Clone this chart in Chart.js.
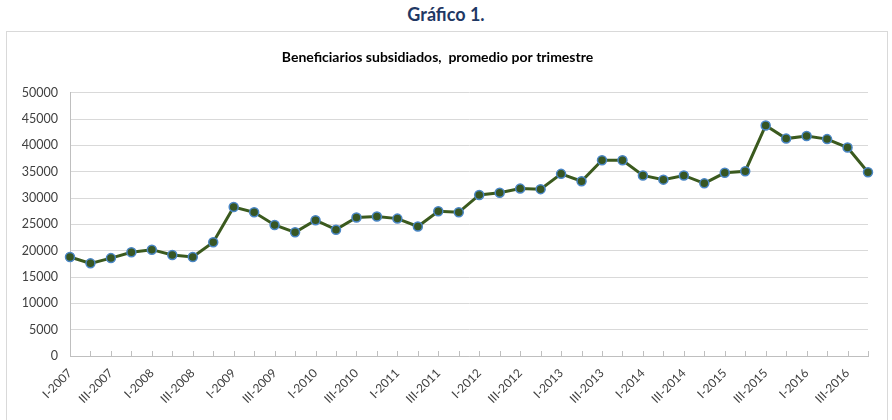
<!DOCTYPE html>
<html>
<head>
<meta charset="utf-8">
<script src="https://cdn.jsdelivr.net/npm/chart.js@4"></script>
<style>
  body { margin: 0; background: #fff; font-family: Lato, "Open Sans", sans-serif; }
  #heading { position: absolute; left: 0; top: 0; width: 892px; height: 30px; line-height: 28px;
    text-align: center; font-weight: bold; font-size: 18px; color: #1F3864; }
  #box { position: absolute; left: 6px; top: 31px; width: 880px; height: 400px;
    border: 1px solid #D9D9D9; }
  #chart { display: block; }
</style>
</head>
<body>
<div id="heading">Gráfico 1.</div>
<div id="box"><canvas id="chart" width="880" height="389"></canvas></div>
<script>
const years = [2007, 2008, 2009, 2010, 2011, 2012, 2013, 2014, 2015, 2016];
const quarters = ["I", "II", "III", "IV"];
const labels = [];
years.forEach(y => quarters.forEach(q => labels.push(q + "-" + y)));

// promedio trimestral de beneficiarios
const beneficiarios = [
  18800, 17600, 18600, 19700, 20200, 19200, 18800, 21600,
  28300, 27300, 24900, 23500, 25800, 24000, 26300, 26500,
  26100, 24600, 27500, 27300, 30600, 31000, 31800, 31700,
  34600, 33200, 37200, 37200, 34300, 33500, 34300, 32800,
  34800, 35100, 43800, 41300, 41800, 41200, 39600, 34900
];
const yTicks = [0, 5000, 10000, 15000, 20000, 25000, 30000, 35000, 40000, 45000, 50000];

// small tick marks pointing up from the category axis, like Excel
const innerTicks = {
  id: "innerTicks",
  afterDraw(chart) {
    const x = chart.scales.x, ctx = chart.ctx;
    const bottom = chart.chartArea.bottom;
    ctx.save();
    ctx.strokeStyle = "#BFBFBF";
    ctx.lineWidth = 1;
    for (let i = 0; i < labels.length; i++) {
      const px = Math.round(x.getPixelForValue(i)) + 0.5;
      ctx.beginPath();
      ctx.moveTo(px, bottom);
      ctx.lineTo(px, bottom - 5);
      ctx.stroke();
    }
    ctx.restore();
  }
};

new Chart(document.getElementById("chart"), {
  type: "line",
  data: {
    labels: labels,
    datasets: [{
      data: beneficiarios,
      borderColor: "#3B5A1E",
      borderWidth: 3,
      pointBackgroundColor: "#375623",
      pointBorderColor: "#4A86C5",
      pointBorderWidth: 1.5,
      pointRadius: 4.5,
      tension: 0
    }]
  },
  options: {
    responsive: false,
    animation: false,
    layout: { padding: { left: 0, right: 19, top: 0, bottom: 0 } },
    plugins: {
      legend: { display: false },
      tooltip: { enabled: false },
      title: {
        display: true,
        text: "Beneficiarios subsidiados,  promedio por trimestre",
        color: "#000",
        font: { family: "Lato", size: 14, weight: "bold" },
        padding: { top: 17, bottom: 27 }
      }
    },
    scales: {
      x: {
        offset: false,
        grid: { display: false },
        border: { color: "#BFBFBF" },
        ticks: {
          autoSkip: false,
          minRotation: 45,
          maxRotation: 45,
          color: "#404040",
          font: { family: "Lato", size: 12 },
          padding: 2,
          callback: (v, i) => i % 2 === 0 ? labels[i] : ""
        },
        afterFit: s => { s.height = 65; }
      },
      y: {
        min: 0,
        max: 50000,
        afterBuildTicks: s => { s.ticks = yTicks.map(v => ({ value: v })); },
        grid: { color: "#D9D9D9", drawTicks: false },
        border: { color: "#BFBFBF" },
        ticks: {
          color: "#404040",
          font: { family: "Lato", size: 12.5 },
          padding: 12,
          callback: v => String(v)
        },
        afterFit: s => { s.width = 63; }
      }
    }
  },
  plugins: [innerTicks]
});
</script>
</body>
</html>
